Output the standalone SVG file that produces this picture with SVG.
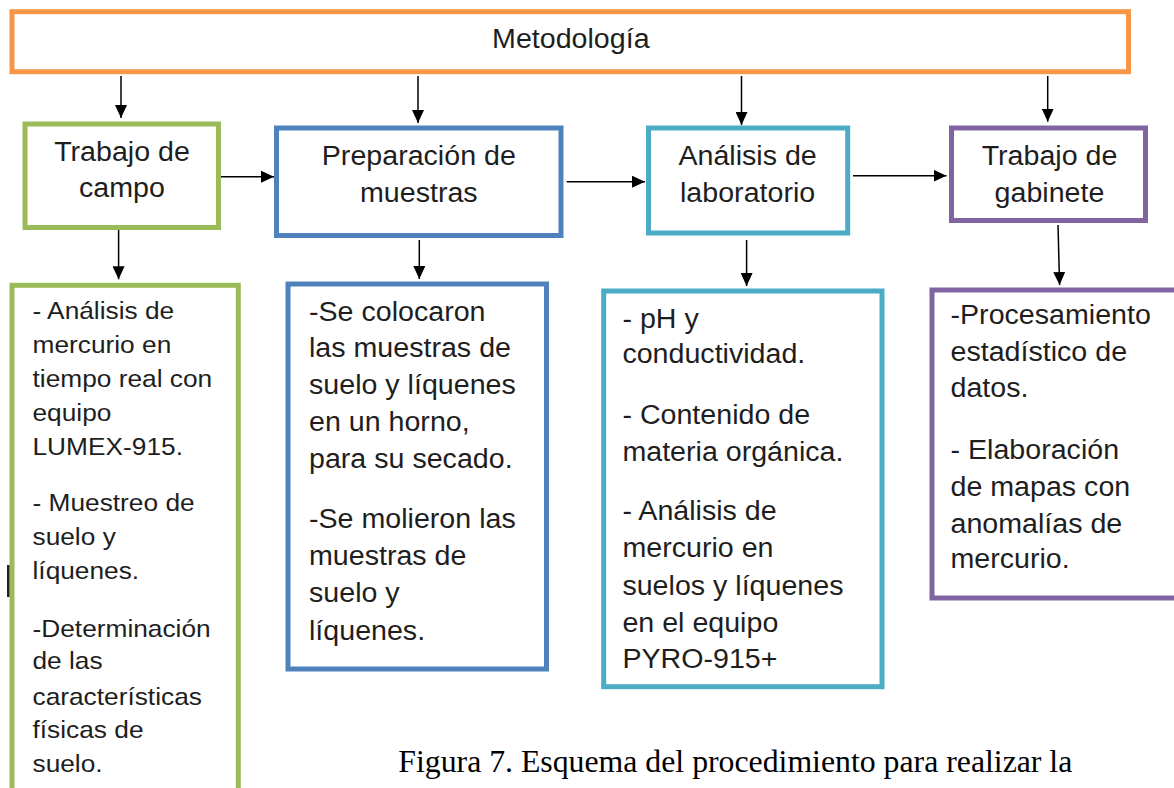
<svg xmlns="http://www.w3.org/2000/svg" width="1174" height="788" viewBox="0 0 1174 788">
<style>
.box{fill:#fff;stroke-width:5}
.t{font-family:"Liberation Sans",Arial,sans-serif;fill:#1e1e1e}
.h{font-size:27px;text-anchor:middle}
.b{font-size:27px}
.bg{font-size:24.8px}
.cap{font-family:"Liberation Serif","Times New Roman",serif;font-size:30.5px;fill:#000}
.c{stroke:#000;stroke-width:1.5;fill:none;marker-end:url(#ah)}
</style>
<defs>
<marker id="ah" markerUnits="userSpaceOnUse" markerWidth="13" markerHeight="12" refX="13" refY="6" orient="auto">
<path d="M0,0 L13,6 L0,12 z" fill="#000"/>
</marker>
</defs>
<rect width="1174" height="788" fill="#fff"/>

<g id="metodologia">
<rect class="box" x="12" y="11.7" width="1116.5" height="60" stroke="#F79646"/>
<text class="t h" transform="translate(570.8,47.7) scale(1.06,1)">Metodología</text>
</g>

<g id="trabajo-campo">
<rect class="box" x="25" y="124" width="193.5" height="103.5" stroke="#9BBB59"/>
<text class="t h" transform="translate(122,160.7) scale(1.06,1)">Trabajo de</text>
<text class="t h" transform="translate(122,196.7) scale(1.06,1)">campo</text>
</g>

<g id="preparacion">
<rect class="box" x="276.5" y="128" width="284.5" height="107.5" stroke="#4F81BD"/>
<text class="t h" transform="translate(418.8,165) scale(1.06,1)">Preparación de</text>
<text class="t h" transform="translate(418.8,201.7) scale(1.06,1)">muestras</text>
</g>

<g id="analisis">
<rect class="box" x="648.5" y="128" width="199.2" height="105" stroke="#4BACC6"/>
<text class="t h" transform="translate(747.6,165) scale(1.06,1)">Análisis de</text>
<text class="t h" transform="translate(747.6,201.7) scale(1.06,1)">laboratorio</text>
</g>

<g id="gabinete">
<rect class="box" x="951.5" y="128" width="194" height="92.5" stroke="#8064A2"/>
<text class="t h" transform="translate(1049.5,165) scale(1.06,1)">Trabajo de</text>
<text class="t h" transform="translate(1049.5,201.7) scale(1.06,1)">gabinete</text>
</g>

<g id="campo-detalle">
<rect class="box" x="12" y="285.3" width="226.3" height="530" stroke="#9BBB59"/>
<g transform="translate(32.5,0) scale(1.06,1)">
<text class="t bg">
<tspan x="0" y="319.3">- Análisis de</tspan>
<tspan x="0" y="352.7">mercurio en</tspan>
<tspan x="0" y="387.3">tiempo real con</tspan>
<tspan x="0" y="420.7">equipo</tspan>
<tspan x="0" y="455">LUMEX-915.</tspan>
<tspan x="0" y="510.7">- Muestreo de</tspan>
<tspan x="0" y="545">suelo y</tspan>
<tspan x="0" y="579.3">líquenes.</tspan>
<tspan x="0" y="636.7">-Determinación</tspan>
<tspan x="0" y="669.3">de las</tspan>
<tspan x="0" y="705">características</tspan>
<tspan x="0" y="738.3">físicas de</tspan>
<tspan x="0" y="771.7">suelo.</tspan>
</text>
</g>
</g>

<g id="preparacion-detalle">
<rect class="box" x="288" y="284" width="258.5" height="385" stroke="#4F81BD"/>
<g transform="translate(309,0) scale(1.06,1)">
<text class="t b">
<tspan x="0" y="320.7">-Se colocaron</tspan>
<tspan x="0" y="357.3">las muestras de</tspan>
<tspan x="0" y="394">suelo y líquenes</tspan>
<tspan x="0" y="430.7">en un horno,</tspan>
<tspan x="0" y="468.3">para su secado.</tspan>
<tspan x="0" y="528.3">-Se molieron las</tspan>
<tspan x="0" y="565">muestras de</tspan>
<tspan x="0" y="601.7">suelo y</tspan>
<tspan x="0" y="640">líquenes.</tspan>
</text>
</g>
</g>

<g id="analisis-detalle">
<rect class="box" x="603.7" y="291" width="278.3" height="395.7" stroke="#4BACC6"/>
<g transform="translate(622.4,0) scale(1.06,1)">
<text class="t b">
<tspan x="0" y="328.3">- pH y</tspan>
<tspan x="0" y="363.3">conductividad.</tspan>
<tspan x="0" y="424">- Contenido de</tspan>
<tspan x="0" y="460.7">materia orgánica.</tspan>
<tspan x="0" y="520">- Análisis de</tspan>
<tspan x="0" y="556.7">mercurio en</tspan>
<tspan x="0" y="595">suelos y líquenes</tspan>
<tspan x="0" y="631.7">en el equipo</tspan>
<tspan x="0" y="668.3">PYRO-915+</tspan>
</text>
</g>
</g>

<g id="gabinete-detalle">
<rect class="box" x="932" y="290" width="260" height="308" stroke="#8064A2"/>
<g transform="translate(950.5,0) scale(1.06,1)">
<text class="t b">
<tspan x="0" y="324">-Procesamiento</tspan>
<tspan x="0" y="360.7">estadístico de</tspan>
<tspan x="0" y="397.3">datos.</tspan>
<tspan x="0" y="459.3">- Elaboración</tspan>
<tspan x="0" y="496">de mapas con</tspan>
<tspan x="0" y="532.7">anomalías de</tspan>
<tspan x="0" y="568.3">mercurio.</tspan>
</text>
</g>
</g>

<g id="connectors">
<line class="c" x1="121" y1="76" x2="121" y2="118"/>
<line class="c" x1="418" y1="76" x2="418" y2="123"/>
<line class="c" x1="741.5" y1="76" x2="741.5" y2="125"/>
<line class="c" x1="1047.7" y1="76" x2="1047.7" y2="121.7"/>
<line class="c" x1="221" y1="176.7" x2="274" y2="176.7"/>
<line class="c" x1="566.7" y1="181.7" x2="645" y2="181.7"/>
<line class="c" x1="853" y1="175.7" x2="946.5" y2="175.7"/>
<line class="c" x1="118.6" y1="230" x2="118.6" y2="279.3"/>
<line class="c" x1="419.3" y1="240" x2="419.3" y2="279"/>
<line class="c" x1="746.6" y1="240" x2="746.6" y2="286"/>
<line class="c" x1="1058" y1="225" x2="1059.6" y2="285"/>
</g>

<rect id="mark" x="7" y="565" width="2.5" height="32" fill="#222"/>

<text id="caption" class="cap" x="398.3" y="771.7" textLength="674" lengthAdjust="spacingAndGlyphs">Figura 7. Esquema del procedimiento para realizar la</text>
</svg>
